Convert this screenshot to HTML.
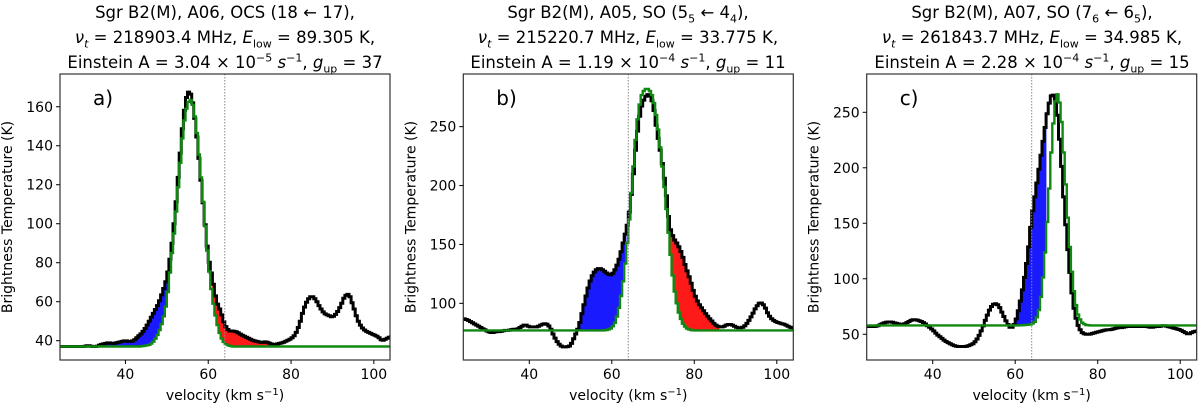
<!DOCTYPE html>
<html><head><meta charset="utf-8"><style>
body{margin:0;background:#fff;width:1200px;height:408px;overflow:hidden;font-family:"DejaVu Sans","Liberation Sans",sans-serif}
.t{position:absolute;text-align:center;font-size:16.5px;line-height:25px;color:#000;white-space:nowrap}
.t i{font-style:italic}
sub,sup{font-size:11px;line-height:0}
</style></head><body>
<div class="t" style="left:25px;width:400px;top:0">Sgr B2(M), A06, OCS (18 ← 17),<br><i>ν<sub>t</sub></i> = 218903.4 MHz, <i>E</i><sub>low</sub> = 89.305 K,<br>Einstein A = 3.04 × 10<sup>−5</sup> <i>s</i><sup>−1</sup>, <i>g</i><sub>up</sub> = 37</div>
<div class="t" style="left:428px;width:400px;top:0">Sgr B2(M), A05, SO (5<sub>5</sub> ← 4<sub>4</sub>),<br><i>ν<sub>t</sub></i> = 215220.7 MHz, <i>E</i><sub>low</sub> = 33.775 K,<br>Einstein A = 1.19 × 10<sup>−4</sup> <i>s</i><sup>−1</sup>, <i>g</i><sub>up</sub> = 11</div>
<div class="t" style="left:832px;width:400px;top:0">Sgr B2(M), A07, SO (7<sub>6</sub> ← 6<sub>5</sub>),<br><i>ν<sub>t</sub></i> = 261843.7 MHz, <i>E</i><sub>low</sub> = 34.985 K,<br>Einstein A = 2.28 × 10<sup>−4</sup> <i>s</i><sup>−1</sup>, <i>g</i><sub>up</sub> = 15</div>
<svg id="svg" width="1200" height="408" style="position:absolute;left:0;top:0" xmlns="http://www.w3.org/2000/svg"></svg>
<script>
// velocity channels (km/s)
const velocity = [];
for (let v = 24; v <= 104; v++) velocity.push(v);
const obsA = [37,37,37,37,37,37,37,37.5,37,37,38,38.5,39,38.5,39,39.5,40,39.5,40,42,44,47,51,55,59,65,72,85,105,130,155,168,166,150,128,105,83,72,60,55,48,45,45,44.5,43,42,41,40,39.5,39,39.5,38.5,38,38.5,39,40,41,43,48,56,61,63,61,57,54,53,52,54,58,63,64,58,51,47,45,44,43,42,40,41,42];
const modelA = [37,37,37,37,37,37,37,37,37,37,37,37,37,37,37,37,37,37,37,37,37.2,37.5,38,40,44,50,60,80,100,125,150,162,164,152,130,105,80,62,50,42,38.5,37.5,37,37,37,37,37,37,37,37,37,37,37,37,37,37,37,37,37,37,37,37,37,37,37,37,37,37,37,37,37,37,37,37,37,37,37,37,37,37,37];
const obsB = [87,86,84,82,80,78,76,75,76,76,77,77,78,78,80,82,80,80,80,82,83,80,72,66,63,63,64,72,80,95,110,122,128,130,128,125,124,130,140,155,170,200,240,265,275,278,270,245,225,200,165,155,150,142,130,120,108,100,95,90,86,82,80,80,82,82,80,79,80,84,90,97,101,98,90,86,84,83,82,80,79];
const modelB = [77,77,77,77,77,77,77,77,77,77,77,77,77,77,77,77,77,77,77,77,77,77,77,77,77,77,77,77,77,77,77,77,77,77,77,77.5,79,85,100,125,160,205,250,275,282,282,275,255,225,190,150,115,95,84,79,77.5,77,77,77,77,77,77,77,77,77,77,77,77,77,77,77,77,77,77,77,77,77,77,77,77,77];
const obsC = [57,57,57,58,60,61,61,60,59,59,61,63,63,62,60,57,54,50,47,44,42,40,39,39,39,40,42,47,55,65,74,78,76,68,60,55,60,75,95,120,155,180,205,230,255,268,258,215,160,115,78,60,52,50,50,51,52,53,54,54,55,56,56,57,57,57,57,57,57,56,57,57,58,57,56,55,54,52,50,52,53];
const modelC = [58,58,58,58,58,58,58,58,58,58,58,58,58,58,58,58,58,58,58,58,58,58,58,58,58,58,58,58,58,58,58,58,58,58,58,58,58,58,58.2,58.5,59,62,75,110,165,230,270,255,200,140,95,70,61,58.5,58,58,58,58,58,58,58,58,58,58,58,58,58,58,58,58,58,58,58,58,58,58,58,58,58,58,58];
const xTicks = [40,60,80,100];
const yTicksA = [40,60,80,100,120,140,160];
const yTicksB = [100,150,200,250];
const yTicksC = [50,100,150,200,250];
const blueRangeA = [33,51], redRangeA = [61,77];
const blueRangeB = [52,63.5], redRangeB = [74,86];
const blueRangeC = [59.5,67.5];
const systemicV = 64;

const NS = "http://www.w3.org/2000/svg";
const svg = document.getElementById('svg');
function mk(tag, attrs, parent){const e=document.createElementNS(NS,tag);for(const k in attrs)e.setAttribute(k,attrs[k]);(parent||svg).appendChild(e);return e;}

// split each channel into two half-width drawing steps (rendering only)
function halfSteps(arr){
  const out=[];
  arr.forEach((t,i)=>{
    const v=velocity[i];
    const prev = i>0 ? arr[i-1] : t, next = i<arr.length-1 ? arr[i+1] : t;
    out.push([v-0.5, v, t*0.75+prev*0.25]);
    out.push([v, v+0.5, t*0.75+next*0.25]);
  });
  return out;
}

function panel(p){
  const g = mk('g',{});
  
  
  const X = v => p.L + (v - p.x0) / (p.x1 - p.x0) * (p.R - p.L);
  const Y = t => p.B - (t - p.y0) / (p.y1 - p.y0) * (p.B - p.T);
  const cid = 'clip' + p.id;
  const cp = mk('clipPath',{id:cid},g); mk('rect',{x:p.L,y:p.T,width:p.R-p.L,height:p.B-p.T},cp);
  const inner = mk('g',{'clip-path':'url(#'+cid+')'},g);
  const hsObs = halfSteps(p.obs), hsMod = halfSteps(p.model);
  const step = hs => { let d=''; hs.forEach((s,i)=>{const a=X(s[0]),b=X(s[1]),y=Y(s[2]);d+=(i?'L':'M')+a.toFixed(1)+','+y.toFixed(1)+'L'+b.toFixed(1)+','+y.toFixed(1);}); return d; };
  const fill = (range,color,name) => {
    let d='';
    hsObs.forEach((s,i)=>{
      const mid=(s[0]+s[1])/2;
      if (mid < range[0] || mid > range[1]) return;
      const o=s[2], m=hsMod[i][2];
      if (o <= m) return;
      const a=X(s[0]), b=X(s[1]);
      d += 'M'+a.toFixed(1)+','+Y(m).toFixed(1)+'L'+a.toFixed(1)+','+Y(o).toFixed(1)+'L'+b.toFixed(1)+','+Y(o).toFixed(1)+'L'+b.toFixed(1)+','+Y(m).toFixed(1)+'Z';
    });
    const e = mk('path',{d:d,fill:color,stroke:color,'stroke-width':0.6},inner);
    
    
  };
  if (p.blue) fill(p.blue,'#1a1aff','blue-wing-fill');
  if (p.red) fill(p.red,'#ff1a1a','red-wing-fill');
  const ob = mk('path',{d:step(hsObs),fill:'none',stroke:'#000','stroke-width':3,'stroke-linejoin':'miter'},inner);
  
  
  const md = mk('path',{d:step(hsMod),fill:'none',stroke:'#118811','stroke-width':2.4},inner);
  
  
  const vl = mk('line',{x1:X(systemicV),x2:X(systemicV),y1:p.T,y2:p.B,stroke:'#888','stroke-width':1,'stroke-dasharray':'1.5,1.5'},g);
  
  
  const fr = mk('rect',{x:p.L,y:p.T,width:p.R-p.L,height:p.B-p.T,fill:'none',stroke:'#333','stroke-width':1.2},g);
  
  
  xTicks.forEach(v=>{
    const x=X(v); mk('line',{x1:x,x2:x,y1:p.B,y2:p.B+4,stroke:'#000'},g);
    const t=mk('text',{x:x,y:p.B+19,'text-anchor':'middle','font-size':14},g); t.textContent=v;
    
    
  });
  p.yt.forEach(v=>{
    const y=Y(v); mk('line',{x1:p.L-4,x2:p.L,y1:y,y2:y,stroke:'#000'},g);
    const t=mk('text',{x:p.L-7,y:y+5,'text-anchor':'end','font-size':14},g); t.textContent=v;
    
    
  });
  const xl=mk('text',{x:(p.L+p.R)/2,y:p.B+40,'text-anchor':'middle','font-size':14},g);
  xl.innerHTML='velocity (km s<tspan dy="-5" font-size="10">−1</tspan><tspan dy="5">)</tspan>';
  
  
  const yl=mk('text',{x:0,y:0,'text-anchor':'middle','font-size':14,transform:'translate('+(p.L-p.ylOff)+','+((p.T+p.B)/2)+') rotate(-90)'},g);
  yl.textContent='Brightness Temperature (K)';
  
  
  const lb=mk('text',{x:p.L+33,y:p.T+31,'font-size':20},g); lb.textContent=p.id+')';
  
  
}
panel({id:'a',L:60,R:390,T:74,B:360,x0:24.2,x1:103.9,y0:30.1,y1:176.8,obs:obsA,model:modelA,yt:yTicksA,blue:blueRangeA,red:redRangeA,ylOff:48});
panel({id:'b',L:463.3,R:793.3,T:74,B:360,x0:24,x1:104,y0:51.9,y1:294.7,obs:obsB,model:modelB,yt:yTicksB,blue:blueRangeB,red:redRangeB,ylOff:48});
panel({id:'c',L:866.7,R:1196.7,T:74,B:360,x0:24,x1:104,y0:26.8,y1:284.5,obs:obsC,model:modelC,yt:yTicksC,blue:blueRangeC,red:null,ylOff:48});
</script>
</body></html>
